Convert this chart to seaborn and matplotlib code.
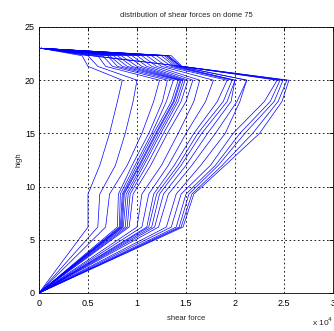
import numpy as np
import pandas as pd
import matplotlib
matplotlib.use("Agg")
import matplotlib.pyplot as plt
from matplotlib.ticker import FuncFormatter
import seaborn as sns

# heights where each profile was sampled
heights = [0, 6.2, 9.3, 12, 15, 18, 20, 21.3, 22.3, 23]

# shear force profiles (units of 1e4), one list per line
profile_01 = [0, 0.50, 0.50, 0.62, 0.72, 0.80, 0.85, 0.50, 0.44, 0.02]
profile_02 = [0, 0.60, 0.62, 0.78, 0.88, 0.96, 1.00, 0.60, 0.50, 0.02]
profile_03 = [0, 0.68, 0.72, 0.90, 1.05, 1.17, 1.23, 0.68, 0.60, 0.02]
profile_04 = [0, 0.80, 0.81, 0.95, 1.12, 1.26, 1.31, 0.75, 0.65, 0.02]
profile_05 = [0, 0.82, 0.83, 0.98, 1.15, 1.30, 1.37, 0.80, 0.70, 0.02]
profile_06 = [0, 0.83, 0.85, 1.00, 1.17, 1.35, 1.42, 0.85, 0.72, 0.02]
profile_07 = [0, 0.84, 0.86, 1.02, 1.19, 1.37, 1.44, 0.90, 0.76, 0.02]
profile_08 = [0, 0.85, 0.87, 1.03, 1.20, 1.38, 1.45, 0.95, 0.80, 0.02]
profile_09 = [0, 0.86, 0.89, 1.05, 1.22, 1.40, 1.47, 1.00, 0.84, 0.02]
profile_10 = [0, 0.88, 0.91, 1.07, 1.24, 1.42, 1.49, 1.05, 0.90, 0.02]
profile_11 = [0, 0.90, 0.93, 1.10, 1.27, 1.45, 1.52, 1.10, 0.95, 0.02]
profile_12 = [0, 0.92, 0.96, 1.14, 1.31, 1.50, 1.57, 1.15, 1.00, 0.02]
profile_13 = [0, 1.00, 1.05, 1.25, 1.42, 1.58, 1.64, 1.20, 1.05, 0.02]
profile_14 = [0, 1.05, 1.12, 1.32, 1.50, 1.70, 1.78, 1.25, 1.10, 0.02]
profile_15 = [0, 1.10, 1.17, 1.38, 1.58, 1.82, 1.92, 1.30, 1.15, 0.02]
profile_16 = [0, 1.12, 1.20, 1.42, 1.62, 1.88, 1.97, 1.35, 1.20, 0.02]
profile_17 = [0, 1.15, 1.23, 1.45, 1.66, 1.92, 2.00, 1.38, 1.25, 0.02]
profile_18 = [0, 1.18, 1.27, 1.50, 1.72, 1.96, 2.00, 1.40, 1.28, 0.02]
profile_19 = [0, 1.22, 1.32, 1.56, 1.80, 2.02, 2.12, 1.42, 1.30, 0.02]
profile_20 = [0, 1.30, 1.40, 1.65, 1.90, 2.05, 2.12, 1.44, 1.32, 0.02]
profile_21 = [0, 1.35, 1.45, 1.75, 1.98, 2.30, 2.43, 1.45, 1.30, 0.02]
profile_22 = [0, 1.40, 1.50, 1.80, 2.05, 2.36, 2.46, 1.45, 1.32, 0.02]
profile_23 = [0, 1.43, 1.53, 1.83, 2.10, 2.40, 2.49, 1.46, 1.35, 0.02]
profile_24 = [0, 1.45, 1.56, 1.87, 2.18, 2.44, 2.53, 1.46, 0.55, 0.02]
profile_25 = [0, 1.47, 1.58, 1.90, 2.25, 2.48, 2.55, 1.46, 0.53, 0.02]

profiles = [profile_01, profile_02, profile_03, profile_04, profile_05,
            profile_06, profile_07, profile_08, profile_09, profile_10,
            profile_11, profile_12, profile_13, profile_14, profile_15,
            profile_16, profile_17, profile_18, profile_19, profile_20,
            profile_21, profile_22, profile_23, profile_24, profile_25]

rows = []
for i, p in enumerate(profiles):
    for order, (f, h) in enumerate(zip(p, heights)):
        rows.append({"line": i, "order": order, "force": f * 1e4, "high": h})
df = pd.DataFrame(rows)

sns.set_style("white")
plt.rcParams['font.family'] = ['Liberation Sans', 'DejaVu Sans']

fig = plt.figure(figsize=(3.34, 3.31), dpi=100)
ax = fig.add_axes([39 / 334, 1 - 293 / 331, 294 / 334, 266 / 331])

sns.lineplot(data=df, x="force", y="high", units="line", estimator=None,
             sort=False, color="#0000ff", linewidth=0.5, ax=ax, legend=False)

ax.set_xlim(0, 3e4)
ax.set_ylim(0, 25)
ax.set_xticks(np.arange(0, 3.01e4, 0.5e4))
ax.set_yticks(np.arange(0, 26, 5))
ax.xaxis.set_major_formatter(FuncFormatter(lambda v, pos: "%g" % (v / 1e4)))

ax.grid(True, color="black", linestyle=(0, (2, 3)), linewidth=0.6)
for s in ax.spines.values():
    s.set_color("black")
    s.set_linewidth(0.6)
ax.tick_params(direction="in", length=3, width=0.6, labelsize=6.5,
               top=True, right=True, colors="black")
ax.tick_params(axis="x", pad=4)
ax.tick_params(axis="y", pad=3)

ax.set_title("distribution of shear forces on dome 75", fontsize=5.5, pad=7)
ax.set_xlabel("shear force", fontsize=5.5, labelpad=5)
ax.set_ylabel("high", fontsize=5.5, labelpad=2)
fig.text(333 / 334, 1 - 326 / 331, "x 10$^4$", fontsize=6,
         ha="right", va="baseline")

fig.savefig("out.png", dpi=100)
